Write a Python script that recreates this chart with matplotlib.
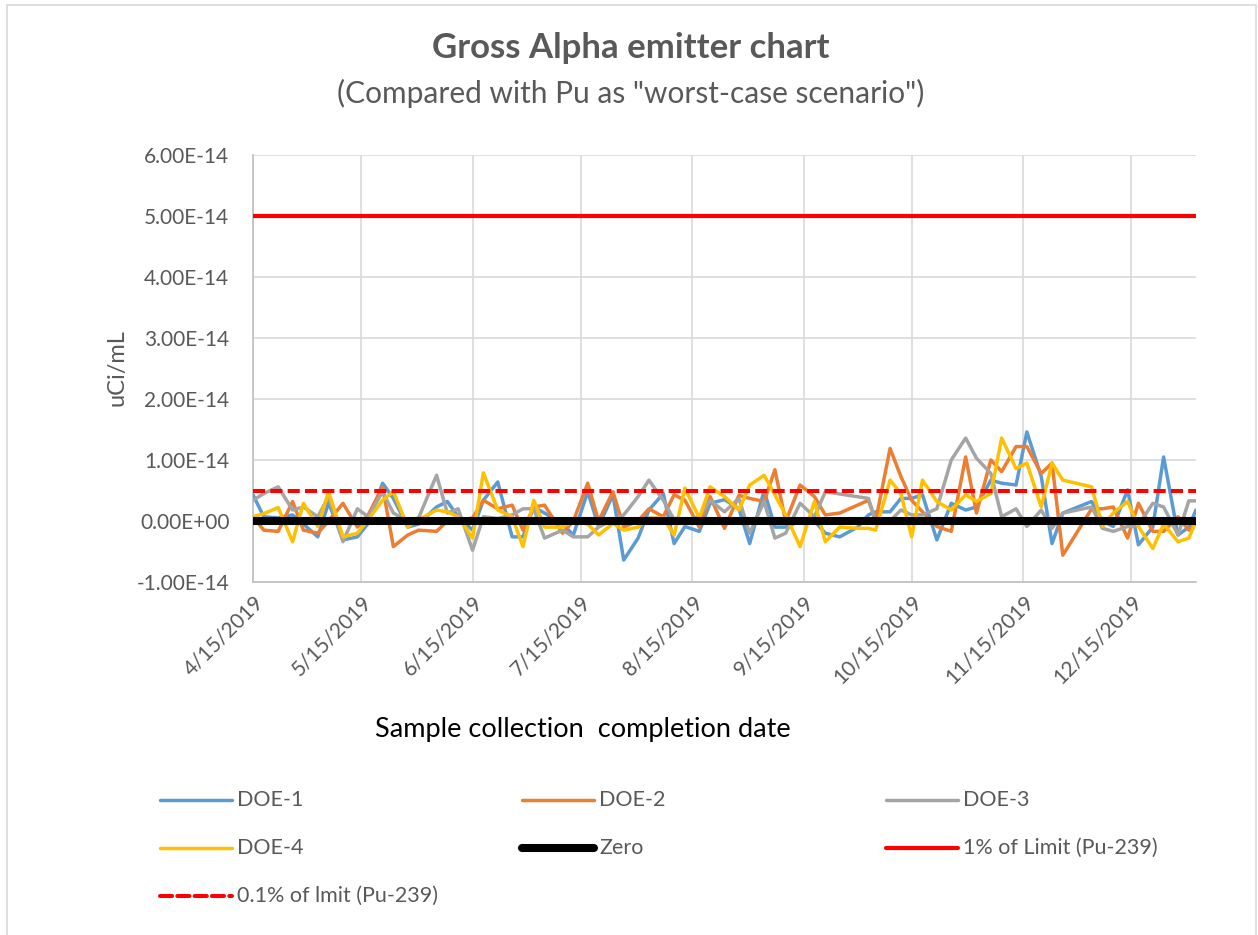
import numpy as np
import matplotlib
matplotlib.use("Agg")
import matplotlib.pyplot as plt
from matplotlib.lines import Line2D
from matplotlib.patches import Rectangle
import datetime as dt

plt.rcParams['font.family'] = ['Lato', 'DejaVu Sans']

# ---------------- data ----------------
dates = ["2019-04-15", "2019-04-18", "2019-04-22", "2019-04-26", "2019-04-29", "2019-05-03",
         "2019-05-06", "2019-05-10", "2019-05-14", "2019-05-17", "2019-05-21", "2019-05-24",
         "2019-05-28", "2019-05-31", "2019-06-05", "2019-06-08", "2019-06-11", "2019-06-15",
         "2019-06-18", "2019-06-22", "2019-06-26", "2019-06-29", "2019-07-02", "2019-07-05",
         "2019-07-10", "2019-07-13", "2019-07-17", "2019-07-20", "2019-07-24", "2019-07-27",
         "2019-07-31", "2019-08-03", "2019-08-07", "2019-08-10", "2019-08-13", "2019-08-17",
         "2019-08-20", "2019-08-24", "2019-08-28", "2019-08-31", "2019-09-04", "2019-09-07",
         "2019-09-10", "2019-09-14", "2019-09-18", "2019-09-21", "2019-09-25", "2019-09-30",
         "2019-10-03", "2019-10-05", "2019-10-09", "2019-10-12", "2019-10-15", "2019-10-18",
         "2019-10-22", "2019-10-26", "2019-10-30", "2019-11-02", "2019-11-06", "2019-11-09",
         "2019-11-13", "2019-11-16", "2019-11-20", "2019-11-23", "2019-11-26", "2019-12-04",
         "2019-12-07", "2019-12-10", "2019-12-14", "2019-12-17", "2019-12-21", "2019-12-24",
         "2019-12-28", "2019-12-31", "2020-01-02"]

nan = np.nan
# values in units of 1e-14 uCi/mL
doe1 = [0.43, 0.07, 0.05, 0.10, -0.05, -0.26, 0.30, -0.31, -0.26, -0.04, 0.62, 0.37,
        -0.10, -0.05, 0.23, 0.32, 0.07, -0.15, 0.34, 0.64, -0.26, -0.26, 0.23, 0.13,
        -0.05, -0.23, 0.48, -0.09, 0.43, -0.64, -0.28, 0.18, 0.45, -0.37, -0.09, -0.17,
        0.29, 0.35, 0.20, -0.37, 0.50, -0.10, -0.10, 0.00, 0.00, -0.20, -0.26, -0.10,
        0.10, 0.15, 0.15, 0.37, 0.37, 0.43, -0.31, 0.29, 0.18, 0.23, 0.67, 0.62,
        0.59, 1.46, 0.73, -0.37, 0.13, 0.32, 0.00, -0.09, 0.51, -0.39, -0.10, 1.05,
        -0.23, -0.10, 0.18]
doe2 = [0.07, -0.15, -0.17, 0.32, -0.15, -0.20, 0.00, 0.29, -0.10, 0.10, 0.56, -0.42,
        -0.23, -0.15, -0.17, 0.00, 0.00, 0.05, 0.34, 0.20, 0.26, -0.15, 0.23, 0.26,
        -0.20, 0.00, 0.62, 0.00, 0.48, -0.10, 0.00, 0.20, 0.07, 0.43, 0.34, -0.10,
        0.40, -0.12, 0.42, 0.37, 0.32, 0.84, -0.01, 0.59, 0.40, 0.10, 0.13, nan,
        0.34, 0.00, 1.19, 0.73, 0.34, 0.15, -0.09, -0.17, 1.05, 0.13, 1.00, 0.81,
        1.22, 1.22, 0.78, 0.95, -0.56, 0.20, 0.20, 0.23, -0.28, 0.29, -0.17, -0.17,
        0.07, -0.15, -0.04]
doe3 = [0.34, 0.45, 0.56, 0.18, 0.23, 0.07, 0.40, -0.34, 0.20, 0.07, 0.48, 0.13,
        0.00, 0.05, 0.75, 0.13, 0.20, -0.48, 0.07, 0.04, 0.10, 0.20, 0.20, -0.28,
        -0.15, -0.26, -0.26, -0.10, 0.02, 0.10, 0.40, 0.67, 0.34, 0.02, 0.02, 0.07,
        0.34, 0.15, 0.37, -0.20, 0.32, -0.28, -0.20, 0.29, 0.07, 0.48, nan, nan,
        0.37, -0.01, 0.00, 0.18, 0.10, 0.10, 0.20, 1.00, 1.36, 1.03, 0.78, 0.07,
        0.20, -0.09, 0.18, -0.12, 0.13, 0.23, -0.12, -0.17, -0.09, -0.07, 0.29, 0.23,
        -0.23, 0.33, 0.33]
doe4 = [0.07, 0.12, 0.22, -0.34, 0.29, -0.09, 0.48, -0.26, -0.20, 0.02, 0.34, 0.48,
        -0.10, 0.02, 0.18, 0.15, 0.07, -0.28, 0.79, 0.18, 0.07, -0.42, 0.34, -0.10,
        -0.10, 0.00, -0.05, -0.23, -0.04, -0.15, -0.10, 0.05, 0.05, -0.23, 0.54, 0.05,
        0.56, 0.40, 0.18, 0.59, 0.75, 0.43, 0.10, -0.42, 0.32, -0.34, -0.10, -0.12,
        -0.12, -0.15, 0.67, 0.45, -0.26, 0.67, 0.32, 0.18, 0.43, 0.32, 0.45, 1.36,
        0.86, 0.95, 0.23, 0.95, 0.67, 0.56, -0.09, 0.13, 0.32, -0.09, -0.45, -0.05,
        -0.34, -0.28, 0.00]
scale = 1e-14
zero_level = 0.0
limit_1pct = 5.0e-14
limit_01pct = 5.0e-15

series_names = ["DOE-1", "DOE-2", "DOE-3", "DOE-4"]
series_colors = ["#5B9BD5", "#ED7D31", "#A5A5A5", "#FFC000"]
tick_dates = ["2019-04-15", "2019-05-15", "2019-06-15", "2019-07-15", "2019-08-15",
              "2019-09-15", "2019-10-15", "2019-11-15", "2019-12-15"]
y_ticks = [-1e-14, 0, 1e-14, 2e-14, 3e-14, 4e-14, 5e-14, 6e-14]
y_labels = ["-1.00E-14", "0.00E+00", "1.00E-14", "2.00E-14", "3.00E-14",
            "4.00E-14", "5.00E-14", "6.00E-14"]

# ---------------- figure ----------------
W, H = 1258, 935
fig = plt.figure(figsize=(W / 100, H / 100), dpi=100)
fig.patch.set_facecolor("white")

def fx(px):
    return px / W

def fy(py):
    return 1 - py / H

fig.add_artist(Rectangle((fx(7), fy(945)), fx(1256) - fx(7), fy(5) - fy(945),
                         transform=fig.transFigure, fill=False,
                         edgecolor="#D9D9D9", linewidth=1.2))

ax = fig.add_axes([fx(253), fy(582), fx(1196) - fx(253), fy(155) - fy(582)])
txt = "#595959"
grid_c = "#D9D9D9"
series_lw = 2.5

x = np.array([dt.datetime.strptime(d, "%Y-%m-%d") for d in dates])
all_vals = [doe1, doe2, doe3, doe4]
for name, vals, col in zip(series_names, all_vals, series_colors):
    v = np.array(vals, dtype=float)
    m = ~np.isnan(v)
    ax.plot(x[m], v[m] * scale, color=col, lw=series_lw, solid_joinstyle="round",
            solid_capstyle="round", zorder=3)

ax.axhline(zero_level, color="black", lw=5.8, zorder=4)
ax.axhline(limit_1pct, color="#FF0000", lw=3.0, zorder=4)
ax.axhline(limit_01pct, color="#FF0000", lw=2.9, dashes=(3.0, 1.3), zorder=4)

ax.set_xlim(x[0], x[-1])
ax.set_ylim(-1e-14, 6e-14)
tks = [dt.datetime.strptime(d, "%Y-%m-%d") for d in tick_dates]
ax.set_xticks(tks)
ax.set_xticklabels([f"{d.month}/{d.day}/{d.year}" for d in tks], rotation=45,
                   ha="right", va="top", rotation_mode="anchor", color=txt, fontsize=15)
ax.set_yticks(y_ticks)
ax.set_yticklabels(y_labels, color=txt, fontsize=15)
ax.tick_params(axis="y", length=0, pad=17)
ax.tick_params(axis="x", length=0, pad=7)
ax.grid(True, color=grid_c, lw=1.2, zorder=0)
for s in ["top", "right"]:
    ax.spines[s].set_visible(False)
ax.spines["left"].set_color("#BFBFBF")
ax.spines["bottom"].set_color("#BFBFBF")
ax.spines["left"].set_linewidth(1.2)
ax.spines["bottom"].set_linewidth(1.2)
ax.set_axisbelow(True)

fig.text(fx(117), fy(368), "uCi/mL", rotation=90, ha="center", va="center",
         color=txt, fontsize=17)
fig.text(fx(583), fy(729), "Sample collection  completion date", ha="center",
         va="center", color="black", fontsize=19.5)
fig.text(fx(631), fy(48), "Gross Alpha emitter chart", ha="center", va="center",
         color=txt, fontsize=25, fontweight="bold")
fig.text(fx(631), fy(93), "(Compared with Pu as \"worst-case scenario\")",
         ha="center", va="center", color=txt, fontsize=21.5)

# legend (manual, 3 columns)
leg_items = [
    ("DOE-1", series_colors[0], series_lw, None, 0, 0),
    ("DOE-2", series_colors[1], series_lw, None, 1, 0),
    ("DOE-3", series_colors[2], series_lw, None, 2, 0),
    ("DOE-4", series_colors[3], series_lw, None, 0, 1),
    ("Zero", "black", 5.8, None, 1, 1),
    ("1% of Limit (Pu-239)", "#FF0000", 3.0, None, 2, 1),
    ("0.1% of lmit (Pu-239)", "#FF0000", 2.9, (3.0, 1.3), 0, 2),
]
col_x = [160, 522, 886]
row_y = [800, 848, 896]
for label, col, lw, dash, c, r in leg_items:
    x0 = col_x[c]
    yy = fy(row_y[r])
    ln = Line2D([fx(x0), fx(x0 + 72)], [yy, yy], transform=fig.transFigure,
                color=col, lw=lw, solid_capstyle="round", dash_capstyle="round")
    if dash:
        ln.set_dashes(dash)
    fig.add_artist(ln)
    fig.text(fx(x0 + 77), yy, label, ha="left", va="center", color=txt, fontsize=15.5)

fig.savefig("out.png", dpi=100)
